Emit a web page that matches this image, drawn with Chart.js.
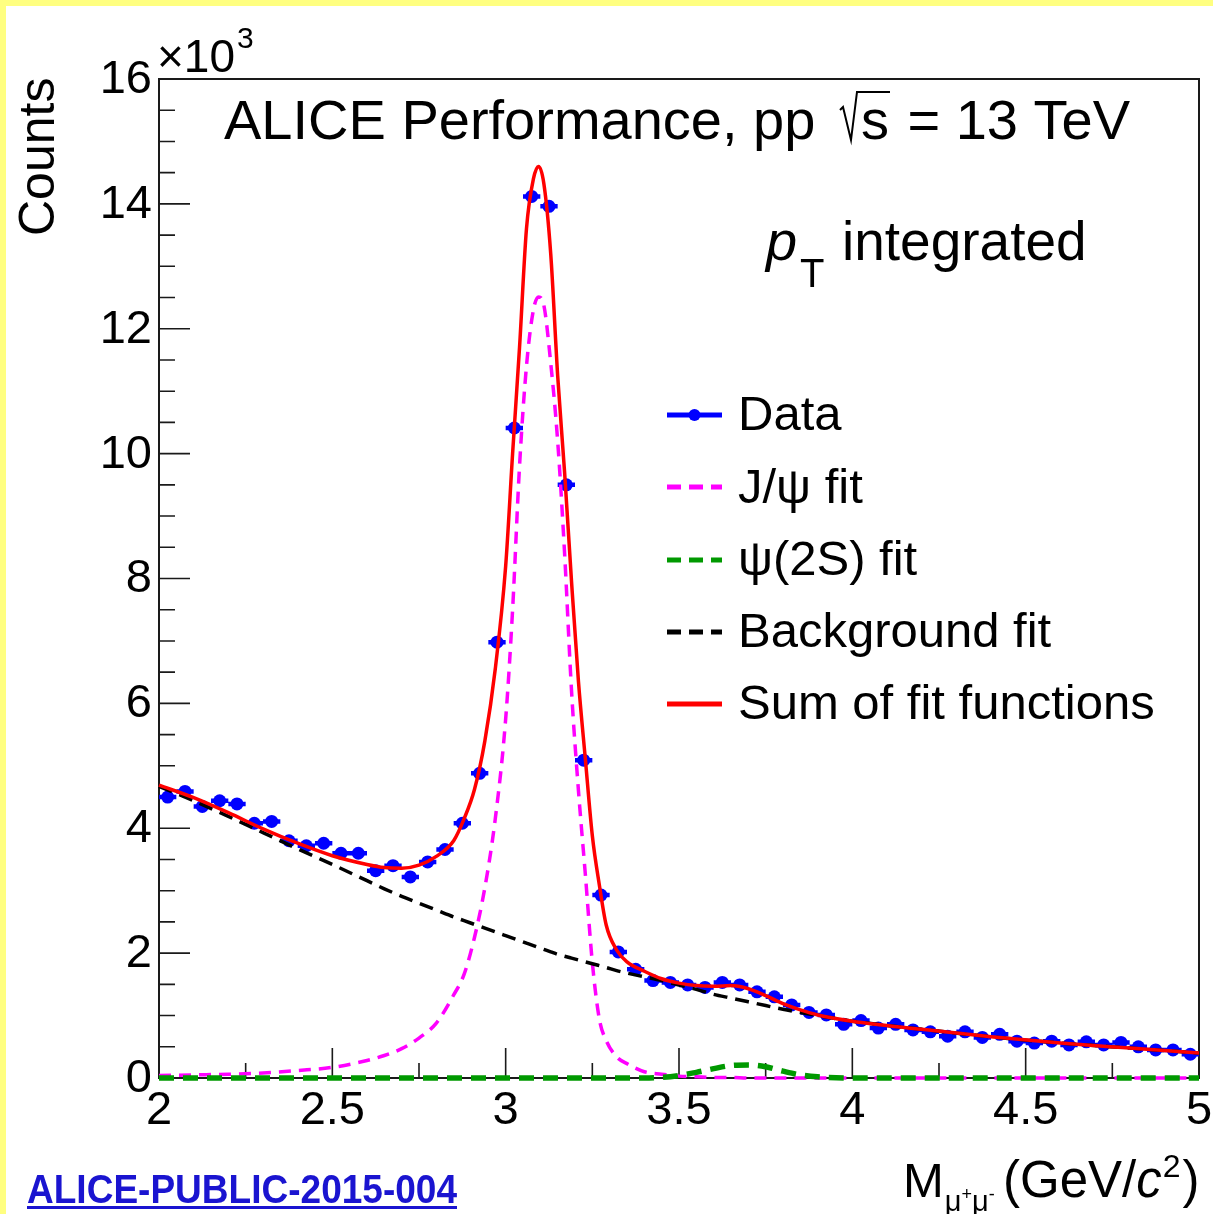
<!DOCTYPE html>
<html>
<head>
<meta charset="utf-8">
<title>ALICE J/psi dimuon invariant mass</title>
<script src="https://cdn.jsdelivr.net/npm/chart.js@4.4.1/dist/chart.umd.min.js"></script>
<style>
  html, body { margin: 0; padding: 0; background: #ffffff; overflow: hidden; }
  canvas { display: block; }
</style>
</head>
<body>
<canvas id="massChart" width="1213" height="1214"></canvas>
<script>
// ---- Dimuon invariant-mass histogram (counts in units of 10^3 per 50 MeV/c^2 bin) ----
const binCenters = [
  2.025, 2.075, 2.125, 2.175, 2.225, 2.275, 2.325, 2.375, 2.425, 2.475,
  2.525, 2.575, 2.625, 2.675, 2.725, 2.775, 2.825, 2.875, 2.925, 2.975,
  3.025, 3.075, 3.125, 3.175, 3.225, 3.275, 3.325, 3.375, 3.425, 3.475,
  3.525, 3.575, 3.625, 3.675, 3.725, 3.775, 3.825, 3.875, 3.925, 3.975,
  4.025, 4.075, 4.125, 4.175, 4.225, 4.275, 4.325, 4.375, 4.425, 4.475,
  4.525, 4.575, 4.625, 4.675, 4.725, 4.775, 4.825, 4.875, 4.925, 4.975
];
const binHalfWidth = 0.025;
const dataCounts = [
  4.50, 4.59, 4.35, 4.44, 4.39, 4.08, 4.11, 3.80, 3.72, 3.76,
  3.60, 3.60, 3.32, 3.40, 3.22, 3.46, 3.66, 4.08, 4.88, 6.98,
  10.41, 14.12, 13.96, 9.50, 5.09, 2.93, 2.02, 1.74, 1.56, 1.53,
  1.49, 1.45, 1.53, 1.49, 1.38, 1.30, 1.17, 1.05, 1.01, 0.86,
  0.92, 0.80, 0.86, 0.77, 0.74, 0.67, 0.74, 0.65, 0.70, 0.59,
  0.56, 0.59, 0.53, 0.58, 0.53, 0.57, 0.50, 0.45, 0.45, 0.38
];

// ---- Fit curves sampled along the mass axis ----
const fitMass = [
  2.00, 2.10, 2.20, 2.30, 2.40, 2.50, 2.60, 2.65, 2.70, 2.75,
  2.80, 2.85, 2.88, 2.91, 2.94, 2.97, 3.00, 3.02, 3.04, 3.06,
  3.08, 3.095, 3.11, 3.13, 3.15, 3.17, 3.19, 3.21, 3.23, 3.25,
  3.27, 3.29, 3.32, 3.35, 3.40, 3.45, 3.50, 3.55, 3.60, 3.65,
  3.70, 3.75, 3.80, 3.85, 3.90, 4.00, 4.20, 4.40, 4.60, 4.80, 5.00
];
const jpsiFit = [
  0.04, 0.05, 0.06, 0.08, 0.12, 0.17, 0.28, 0.36, 0.47, 0.64,
  0.88, 1.33, 1.66, 2.25, 3.05, 4.15, 5.75, 7.50, 9.80, 11.40,
  12.30, 12.51, 12.38, 11.45, 10.20, 8.40, 6.20, 4.60, 3.25, 1.85,
  0.95, 0.60, 0.34, 0.23, 0.10, 0.06, 0.03, 0.02, 0.01, 0.01,
  0.00, 0.00, 0.00, 0.00, 0.00, 0.00, 0.00, 0.00, 0.00, 0.00, 0.00
];
const psi2sFit = [
  0.00, 0.00, 0.00, 0.00, 0.00, 0.00, 0.00, 0.00, 0.00, 0.00,
  0.00, 0.00, 0.00, 0.00, 0.00, 0.00, 0.00, 0.00, 0.00, 0.00,
  0.00, 0.00, 0.00, 0.00, 0.00, 0.00, 0.00, 0.00, 0.00, 0.00,
  0.00, 0.00, 0.00, 0.00, 0.00, 0.01, 0.04, 0.09, 0.15, 0.20,
  0.21, 0.18, 0.11, 0.05, 0.02, 0.00, 0.00, 0.00, 0.00, 0.00, 0.00
];
const bkgFit = [
  4.67, 4.44, 4.19, 3.93, 3.67, 3.42, 3.16, 3.03, 2.91, 2.80,
  2.69, 2.58, 2.52, 2.46, 2.40, 2.34, 2.28, 2.24, 2.20, 2.16,
  2.12, 2.09, 2.06, 2.02, 1.98, 1.95, 1.92, 1.89, 1.86, 1.83,
  1.80, 1.77, 1.72, 1.68, 1.62, 1.56, 1.49, 1.42, 1.34, 1.28,
  1.22, 1.16, 1.10, 1.05, 1.00, 0.91, 0.78, 0.66, 0.56, 0.48, 0.40
];
const sumFit = [
  4.69, 4.49, 4.25, 3.99, 3.76, 3.56, 3.42, 3.37, 3.36, 3.41,
  3.55, 3.80, 4.15, 4.62, 5.40, 6.55, 8.20, 10.00, 11.70, 13.60,
  14.40, 14.60, 14.33, 13.20, 11.25, 9.70, 7.95, 6.35, 5.10, 3.88,
  3.10, 2.45, 2.05, 1.86, 1.71, 1.59, 1.52, 1.48, 1.47, 1.48,
  1.43, 1.32, 1.19, 1.09, 1.01, 0.91, 0.78, 0.66, 0.56, 0.48, 0.40
];

// ---- Axis ticks ----
const xTickMajor = [2, 2.5, 3, 3.5, 4, 4.5, 5];
const xTickLabels = ['2', '2.5', '3', '3.5', '4', '4.5', '5'];
const xTickMinor = [2.25, 2.75, 3.25, 3.75, 4.25, 4.75];
const yTickMajor = [0, 2, 4, 6, 8, 10, 12, 14, 16];
const yTickLabels = ['0', '2', '4', '6', '8', '10', '12', '14', '16'];
const yMinorStep = 0.5;

const FONT = "'Liberation Sans', Arial, Helvetica, sans-serif";
const BLUE = '#0000ff';
const MAGENTA = '#ff00ff';
const GREEN = '#009900';
const RED = '#ff0000';

function pts(xs, ys) { return xs.map((x, i) => ({ x: x, y: ys[i] })); }

function text(ctx, s, x, y, size, opts = {}) {
  ctx.save();
  ctx.font = (opts.style || '') + ' ' + (opts.weight || '') + ' ' + size + 'px ' + FONT;
  ctx.fillStyle = opts.color || '#000';
  ctx.textAlign = opts.align || 'left';
  ctx.textBaseline = opts.baseline || 'alphabetic';
  ctx.fillText(s, x, y);
  const w = ctx.measureText(s).width;
  ctx.restore();
  return w;
}

// Page background with the yellow edge strips
const backgroundPlugin = {
  id: 'pageBackground',
  beforeDraw(chart) {
    const ctx = chart.ctx;
    ctx.save();
    ctx.fillStyle = '#ffffff';
    ctx.fillRect(0, 0, chart.width, chart.height);
    ctx.fillStyle = '#ffff80';
    ctx.fillRect(0, 0, chart.width, 6);
    ctx.fillRect(0, 0, 6, chart.height);
    ctx.restore();
  }
};

// ROOT-style frame with inward ticks, drawn beneath the data
const framePlugin = {
  id: 'rootFrame',
  beforeDatasetsDraw(chart) {
    const ctx = chart.ctx, a = chart.chartArea;
    const xs = chart.scales.x, ys = chart.scales.y;
    ctx.save();
    ctx.strokeStyle = '#1a1a1a';
    ctx.lineWidth = 1.6;
    ctx.beginPath();
    xTickMajor.forEach(v => { const p = xs.getPixelForValue(v); ctx.moveTo(p, a.bottom); ctx.lineTo(p, a.bottom - 30); });
    xTickMinor.forEach(v => { const p = xs.getPixelForValue(v); ctx.moveTo(p, a.bottom); ctx.lineTo(p, a.bottom - 15); });
    yTickMajor.forEach(v => { const p = ys.getPixelForValue(v); ctx.moveTo(a.left, p); ctx.lineTo(a.left + 31, p); });
    for (let v = yMinorStep; v < ys.max; v += yMinorStep) {
      if (Math.abs(v / 2 - Math.round(v / 2)) < 1e-6) continue;
      const p = ys.getPixelForValue(v);
      ctx.moveTo(a.left, p); ctx.lineTo(a.left + 16, p);
    }
    ctx.stroke();
    ctx.lineWidth = 2;
    ctx.strokeRect(a.left, a.top, a.right - a.left, a.bottom - a.top);
    ctx.restore();
  }
};

// Horizontal bin-width bars under the data markers
const binBarPlugin = {
  id: 'binBars',
  beforeDatasetDraw(chart, args) {
    if (chart.data.datasets[args.index].label !== 'Data') return;
    const ctx = chart.ctx, xs = chart.scales.x, ys = chart.scales.y;
    ctx.save();
    ctx.strokeStyle = BLUE;
    ctx.lineWidth = 4.5;
    ctx.beginPath();
    binCenters.forEach((c, i) => {
      const y = ys.getPixelForValue(dataCounts[i]);
      ctx.moveTo(xs.getPixelForValue(c - binHalfWidth), y);
      ctx.lineTo(xs.getPixelForValue(c + binHalfWidth), y);
    });
    ctx.stroke();
    ctx.restore();
  }
};

// Tick labels, axis titles, annotations and legend
const labelPlugin = {
  id: 'rootLabels',
  afterDraw(chart) {
    const ctx = chart.ctx;
    const xs = chart.scales.x, ys = chart.scales.y;

    xTickMajor.forEach((v, i) => text(ctx, xTickLabels[i], xs.getPixelForValue(v), 1124, 47, { align: 'center' }));
    yTickMajor.forEach((v, i) => text(ctx, yTickLabels[i], 152, ys.getPixelForValue(v) + 1, 47, { align: 'right', baseline: 'middle' }));

    // exponent above the y axis
    const w10 = text(ctx, '\u00d710', 157, 72, 46);
    text(ctx, '3', 157 + w10 + 2, 48, 30);

    // y axis title
    ctx.save();
    ctx.translate(54, 236);
    ctx.rotate(-Math.PI / 2);
    text(ctx, 'Counts', 0, 0, 50);
    ctx.restore();

    // x axis title: M_{mu+mu-} (GeV/c^2)
    let cx = 903;
    cx += text(ctx, 'M', cx, 1197, 49);
    let sx = cx + 1;
    sx += text(ctx, '\u03bc', sx, 1211, 29);
    sx += text(ctx, '+', sx, 1200, 18);
    sx += text(ctx, '\u03bc', sx, 1211, 29);
    text(ctx, '-', sx, 1200, 18);
    cx = 1003;
    cx += text(ctx, '(GeV/', cx, 1197, 51);
    cx += text(ctx, 'c', cx, 1197, 51, { style: 'italic' });
    cx += text(ctx, '2', cx + 1, 1177, 32) + 3;
    text(ctx, ')', cx, 1197, 51);

    // header text
    text(ctx, 'ALICE Performance, pp', 224, 139, 56);
    ctx.save();
    ctx.strokeStyle = '#000';
    ctx.lineWidth = 2;
    ctx.beginPath();
    ctx.moveTo(840, 110); ctx.lineTo(843, 107); ctx.lineTo(851, 140); ctx.lineTo(857, 92); ctx.lineTo(890, 92);
    ctx.stroke();
    ctx.restore();
    text(ctx, 's', 861, 139, 56);
    text(ctx, '= 13 TeV', 1130, 139, 56, { align: 'right' });

    text(ctx, 'p', 766, 260, 56, { style: 'italic' });
    text(ctx, 'T', 800, 287, 40);
    text(ctx, 'integrated', 842, 260, 55);

    // legend
    const lx0 = 667, lx1 = 722, tx = 738;
    ctx.save();
    ctx.lineCap = 'butt';
    ctx.strokeStyle = BLUE; ctx.lineWidth = 5;
    ctx.beginPath(); ctx.moveTo(lx0, 415); ctx.lineTo(lx1, 415); ctx.stroke();
    ctx.fillStyle = BLUE;
    ctx.beginPath(); ctx.arc(694.5, 415, 6, 0, Math.PI * 2); ctx.fill();
    const dashRow = (y, color) => {
      ctx.strokeStyle = color; ctx.lineWidth = 5; ctx.setLineDash([14, 8]);
      ctx.beginPath(); ctx.moveTo(lx0, y); ctx.lineTo(lx1, y); ctx.stroke();
      ctx.setLineDash([]);
    };
    dashRow(487, MAGENTA);
    dashRow(560, GREEN);
    dashRow(632, '#000000');
    ctx.strokeStyle = RED; ctx.lineWidth = 5;
    ctx.beginPath(); ctx.moveTo(lx0, 704); ctx.lineTo(lx1, 704); ctx.stroke();
    ctx.restore();
    text(ctx, 'Data', tx, 430, 49);
    text(ctx, 'J/\u03c8 fit', tx, 503, 49);
    text(ctx, '\u03c8(2S) fit', tx, 575, 49);
    text(ctx, 'Background fit', tx, 647, 49);
    text(ctx, 'Sum of fit functions', tx, 719, 49);

    // report reference, condensed bold and underlined
    ctx.save();
    ctx.font = 'bold 41px ' + FONT;
    const ref = 'ALICE-PUBLIC-2015-004';
    const rw = ctx.measureText(ref).width;
    ctx.translate(27, 1203);
    ctx.scale(430 / rw, 1);
    ctx.fillStyle = '#1a14d0';
    ctx.fillText(ref, 0, 0);
    ctx.restore();
    ctx.save();
    ctx.fillStyle = '#1a14d0';
    ctx.fillRect(27, 1206, 430, 3);
    ctx.restore();
  }
};

const lineCommon = { showLine: true, pointRadius: 0, pointHoverRadius: 0, fill: false,
  cubicInterpolationMode: 'monotone', clip: false, borderCapStyle: 'butt' };

new Chart(document.getElementById('massChart'), {
  type: 'scatter',
  data: {
    datasets: [
      { label: 'Data', data: pts(binCenters, dataCounts), showLine: false,
        pointRadius: 6.5, pointHoverRadius: 6.5, pointBackgroundColor: BLUE,
        pointBorderColor: BLUE, pointBorderWidth: 0, order: 5, clip: false },
      Object.assign({ label: 'J/\u03c8 fit', data: pts(fitMass, jpsiFit), borderColor: MAGENTA,
        borderWidth: 3.5, borderDash: [12, 8], order: 4 }, lineCommon),
      Object.assign({ label: '\u03c8(2S) fit', data: pts(fitMass, psi2sFit), borderColor: GREEN,
        borderWidth: 5.5, borderDash: [15, 9], order: 3 }, lineCommon),
      Object.assign({ label: 'Background fit', data: pts(fitMass, bkgFit), borderColor: '#000000',
        borderWidth: 3.5, borderDash: [14, 8], order: 2 }, lineCommon),
      Object.assign({ label: 'Sum of fit functions', data: pts(fitMass, sumFit), borderColor: RED,
        borderWidth: 3.5, order: 1 }, lineCommon)
    ]
  },
  options: {
    responsive: false,
    animation: false,
    devicePixelRatio: 1,
    events: [],
    layout: { padding: { left: 159, right: 14, top: 79, bottom: 136 } },
    scales: {
      x: { type: 'linear', min: 2, max: 5, display: false },
      y: { type: 'linear', min: 0, max: 16, display: false }
    },
    plugins: { legend: { display: false }, tooltip: { enabled: false }, title: { display: false } }
  },
  plugins: [backgroundPlugin, framePlugin, binBarPlugin, labelPlugin]
});
</script>
</body>
</html>
